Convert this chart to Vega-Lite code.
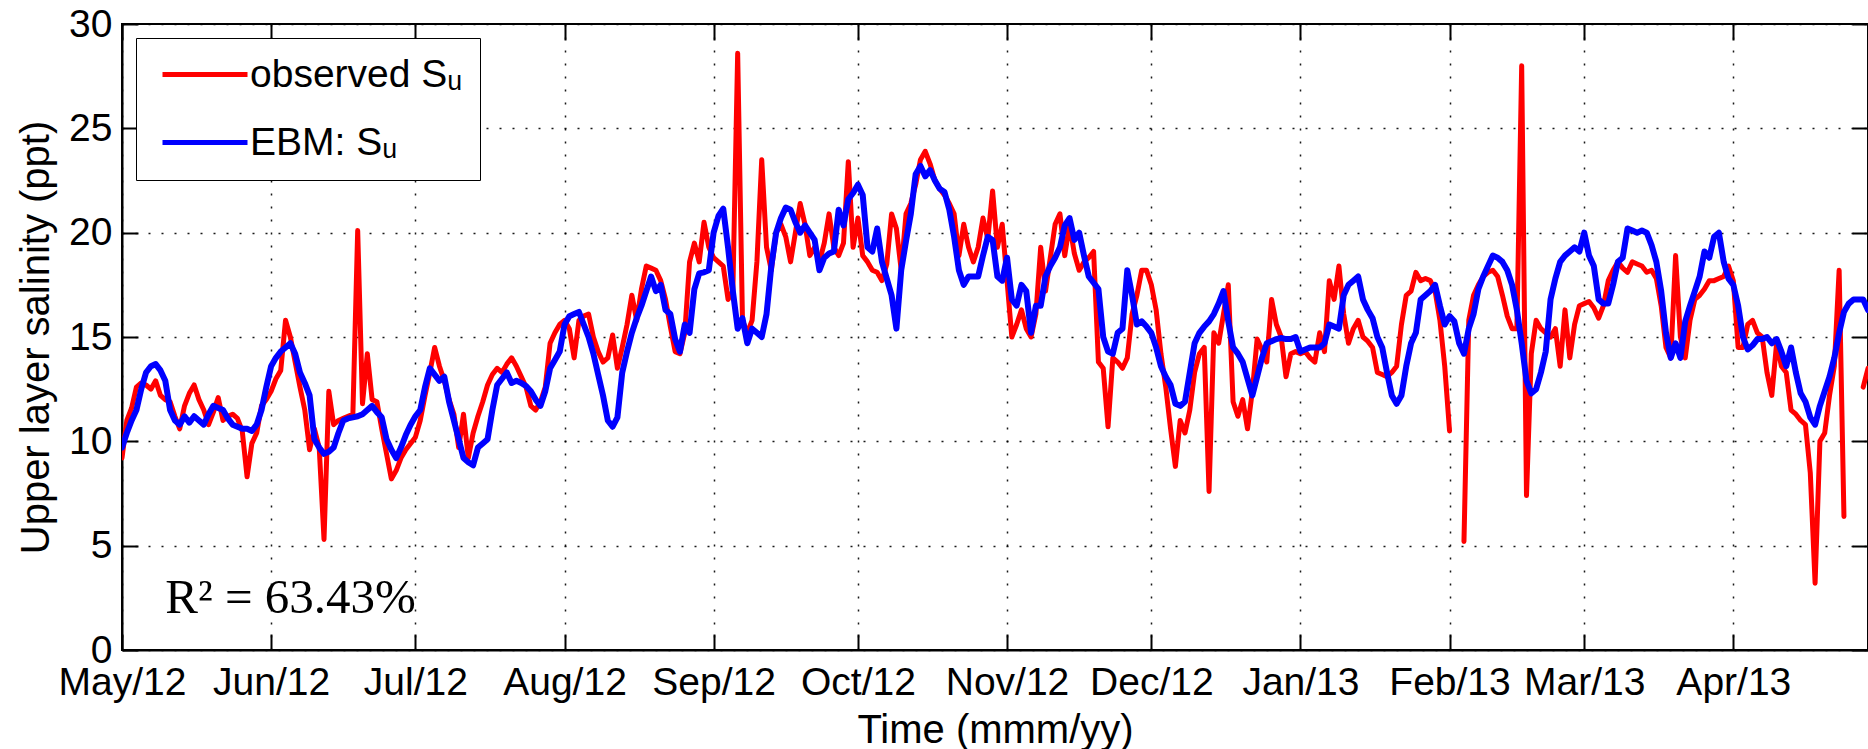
{
"$schema": "https://vega.github.io/schema/vega-lite/v6.json",
"width": 1746, "height": 626,
"autosize": {"type": "none"},
"padding": {"left": 122, "top": 24, "right": 0, "bottom": 99},
"background": "white",
"datasets": {
"obs": [
{"t":"2012-05-01","v":9.2},{"t":"2012-05-02","v":11.0},{"t":"2012-05-03","v":11.6},{"t":"2012-05-04","v":12.6},{"t":"2012-05-05","v":12.8},{"t":"2012-05-06","v":12.7},{"t":"2012-05-07","v":12.5},{"t":"2012-05-08","v":12.9},{"t":"2012-05-09","v":12.2},{"t":"2012-05-10","v":12.0},{"t":"2012-05-11","v":11.9},{"t":"2012-05-12","v":11.2},{"t":"2012-05-13","v":10.6},{"t":"2012-05-14","v":11.7},{"t":"2012-05-15","v":12.3},{"t":"2012-05-16","v":12.7},{"t":"2012-05-17","v":12.0},{"t":"2012-05-18","v":11.5},{"t":"2012-05-19","v":10.8},{"t":"2012-05-20","v":11.4},{"t":"2012-05-21","v":12.1},{"t":"2012-05-22","v":11.0},{"t":"2012-05-23","v":11.2},{"t":"2012-05-24","v":11.3},{"t":"2012-05-25","v":11.1},{"t":"2012-05-26","v":10.5},{"t":"2012-05-27","v":8.3},{"t":"2012-05-28","v":9.9},{"t":"2012-05-29","v":10.4},{"t":"2012-05-30","v":11.7},{"t":"2012-05-31","v":12.0},
{"t":"2012-06-01","v":12.4},{"t":"2012-06-02","v":13.0},{"t":"2012-06-03","v":13.4},{"t":"2012-06-04","v":15.8},{"t":"2012-06-05","v":15.0},{"t":"2012-06-06","v":13.8},{"t":"2012-06-07","v":12.6},{"t":"2012-06-08","v":11.5},{"t":"2012-06-09","v":9.6},{"t":"2012-06-10","v":10.6},{"t":"2012-06-11","v":9.7},{"t":"2012-06-12","v":5.3},{"t":"2012-06-13","v":12.4},{"t":"2012-06-14","v":10.8},{"t":"2012-06-15","v":11.0},{"t":"2012-06-16","v":11.1},{"t":"2012-06-17","v":11.2},{"t":"2012-06-18","v":11.3},{"t":"2012-06-19","v":20.1},{"t":"2012-06-20","v":11.8},{"t":"2012-06-21","v":14.2},{"t":"2012-06-22","v":12.0},{"t":"2012-06-23","v":11.9},{"t":"2012-06-24","v":10.6},{"t":"2012-06-25","v":9.4},{"t":"2012-06-26","v":8.2},{"t":"2012-06-27","v":8.6},{"t":"2012-06-28","v":9.2},{"t":"2012-06-29","v":9.6},{"t":"2012-06-30","v":9.9},
{"t":"2012-07-01","v":10.2},{"t":"2012-07-02","v":11.0},{"t":"2012-07-03","v":12.2},{"t":"2012-07-04","v":13.3},{"t":"2012-07-05","v":14.5},{"t":"2012-07-06","v":13.6},{"t":"2012-07-07","v":12.9},{"t":"2012-07-08","v":12.0},{"t":"2012-07-09","v":11.3},{"t":"2012-07-10","v":9.7},{"t":"2012-07-11","v":11.3},{"t":"2012-07-12","v":9.2},{"t":"2012-07-13","v":10.4},{"t":"2012-07-14","v":11.2},{"t":"2012-07-15","v":11.9},{"t":"2012-07-16","v":12.7},{"t":"2012-07-17","v":13.2},{"t":"2012-07-18","v":13.5},{"t":"2012-07-19","v":13.3},{"t":"2012-07-20","v":13.7},{"t":"2012-07-21","v":14.0},{"t":"2012-07-22","v":13.6},{"t":"2012-07-23","v":13.1},{"t":"2012-07-24","v":12.6},{"t":"2012-07-25","v":11.7},{"t":"2012-07-26","v":11.5},{"t":"2012-07-27","v":11.9},{"t":"2012-07-28","v":12.6},{"t":"2012-07-29","v":14.7},{"t":"2012-07-30","v":15.2},{"t":"2012-07-31","v":15.6},
{"t":"2012-08-01","v":15.8},{"t":"2012-08-02","v":15.4},{"t":"2012-08-03","v":14.0},{"t":"2012-08-04","v":15.8},{"t":"2012-08-05","v":16.0},{"t":"2012-08-06","v":16.1},{"t":"2012-08-07","v":15.0},{"t":"2012-08-08","v":14.3},{"t":"2012-08-09","v":13.8},{"t":"2012-08-10","v":14.0},{"t":"2012-08-11","v":15.1},{"t":"2012-08-12","v":13.5},{"t":"2012-08-13","v":14.5},{"t":"2012-08-14","v":15.6},{"t":"2012-08-15","v":17.0},{"t":"2012-08-16","v":15.8},{"t":"2012-08-17","v":17.3},{"t":"2012-08-18","v":18.4},{"t":"2012-08-19","v":18.3},{"t":"2012-08-20","v":18.2},{"t":"2012-08-21","v":17.7},{"t":"2012-08-22","v":16.8},{"t":"2012-08-23","v":15.5},{"t":"2012-08-24","v":14.3},{"t":"2012-08-25","v":14.2},{"t":"2012-08-26","v":15.2},{"t":"2012-08-27","v":18.6},{"t":"2012-08-28","v":19.5},{"t":"2012-08-29","v":18.6},{"t":"2012-08-30","v":20.5},{"t":"2012-08-31","v":19.3},
{"t":"2012-09-01","v":18.8},{"t":"2012-09-02","v":18.6},{"t":"2012-09-03","v":18.4},{"t":"2012-09-04","v":16.8},{"t":"2012-09-05","v":17.2},{"t":"2012-09-06","v":28.6},{"t":"2012-09-07","v":15.8},{"t":"2012-09-08","v":15.2},{"t":"2012-09-09","v":15.8},{"t":"2012-09-10","v":18.6},{"t":"2012-09-11","v":23.5},{"t":"2012-09-12","v":19.3},{"t":"2012-09-13","v":18.2},{"t":"2012-09-14","v":20.0},{"t":"2012-09-15","v":20.4},{"t":"2012-09-16","v":19.8},{"t":"2012-09-17","v":18.6},{"t":"2012-09-18","v":20.0},{"t":"2012-09-19","v":21.4},{"t":"2012-09-20","v":20.4},{"t":"2012-09-21","v":18.9},{"t":"2012-09-22","v":19.3},{"t":"2012-09-23","v":18.6},{"t":"2012-09-24","v":19.5},{"t":"2012-09-25","v":20.9},{"t":"2012-09-26","v":19.3},{"t":"2012-09-27","v":18.9},{"t":"2012-09-28","v":19.5},{"t":"2012-09-29","v":23.4},{"t":"2012-09-30","v":19.3},
{"t":"2012-10-01","v":20.7},{"t":"2012-10-02","v":18.9},{"t":"2012-10-03","v":18.6},{"t":"2012-10-04","v":18.2},{"t":"2012-10-05","v":18.1},{"t":"2012-10-06","v":17.7},{"t":"2012-10-07","v":18.5},{"t":"2012-10-08","v":20.9},{"t":"2012-10-09","v":20.2},{"t":"2012-10-10","v":18.2},{"t":"2012-10-11","v":20.9},{"t":"2012-10-12","v":21.4},{"t":"2012-10-13","v":22.3},{"t":"2012-10-14","v":23.5},{"t":"2012-10-15","v":23.9},{"t":"2012-10-16","v":23.3},{"t":"2012-10-17","v":22.5},{"t":"2012-10-18","v":22.1},{"t":"2012-10-19","v":21.8},{"t":"2012-10-20","v":21.4},{"t":"2012-10-21","v":20.9},{"t":"2012-10-22","v":18.9},{"t":"2012-10-23","v":20.4},{"t":"2012-10-24","v":19.3},{"t":"2012-10-25","v":18.6},{"t":"2012-10-26","v":19.3},{"t":"2012-10-27","v":20.7},{"t":"2012-10-28","v":19.7},{"t":"2012-10-29","v":22.0},{"t":"2012-10-30","v":19.3},{"t":"2012-10-31","v":20.4},
{"t":"2012-11-01","v":17.7},{"t":"2012-11-02","v":15.0},{"t":"2012-11-03","v":15.6},{"t":"2012-11-04","v":16.3},{"t":"2012-11-05","v":15.4},{"t":"2012-11-06","v":15.0},{"t":"2012-11-07","v":16.1},{"t":"2012-11-08","v":19.3},{"t":"2012-11-09","v":17.2},{"t":"2012-11-10","v":18.8},{"t":"2012-11-11","v":20.4},{"t":"2012-11-12","v":20.9},{"t":"2012-11-13","v":18.9},{"t":"2012-11-14","v":20.4},{"t":"2012-11-15","v":19.0},{"t":"2012-11-16","v":18.2},{"t":"2012-11-17","v":18.6},{"t":"2012-11-18","v":18.8},{"t":"2012-11-19","v":19.1},{"t":"2012-11-20","v":13.8},{"t":"2012-11-21","v":13.5},{"t":"2012-11-22","v":10.7},{"t":"2012-11-23","v":14.0},{"t":"2012-11-24","v":13.8},{"t":"2012-11-25","v":13.5},{"t":"2012-11-26","v":14.0},{"t":"2012-11-27","v":16.1},{"t":"2012-11-28","v":17.0},{"t":"2012-11-29","v":18.2},{"t":"2012-11-30","v":18.2},
{"t":"2012-12-01","v":17.5},{"t":"2012-12-02","v":16.3},{"t":"2012-12-03","v":14.2},{"t":"2012-12-04","v":12.6},{"t":"2012-12-05","v":10.6},{"t":"2012-12-06","v":8.8},{"t":"2012-12-07","v":11.0},{"t":"2012-12-08","v":10.4},{"t":"2012-12-09","v":11.5},{"t":"2012-12-10","v":13.3},{"t":"2012-12-11","v":14.2},{"t":"2012-12-12","v":14.5},{"t":"2012-12-13","v":7.6},{"t":"2012-12-14","v":15.2},{"t":"2012-12-15","v":14.7},{"t":"2012-12-16","v":16.1},{"t":"2012-12-17","v":17.5},{"t":"2012-12-18","v":11.9},{"t":"2012-12-19","v":11.2},{"t":"2012-12-20","v":12.0},{"t":"2012-12-21","v":10.6},{"t":"2012-12-22","v":12.4},{"t":"2012-12-23","v":14.9},{"t":"2012-12-24","v":14.4},{"t":"2012-12-25","v":13.8},{"t":"2012-12-26","v":16.8},{"t":"2012-12-27","v":15.6},{"t":"2012-12-28","v":15.0},{"t":"2012-12-29","v":13.1},{"t":"2012-12-30","v":14.2},{"t":"2012-12-31","v":14.3},
{"t":"2013-01-01","v":14.2},{"t":"2013-01-02","v":14.3},{"t":"2013-01-03","v":14.0},{"t":"2013-01-04","v":13.8},{"t":"2013-01-05","v":15.2},{"t":"2013-01-06","v":14.3},{"t":"2013-01-07","v":17.7},{"t":"2013-01-08","v":16.8},{"t":"2013-01-09","v":18.4},{"t":"2013-01-10","v":16.1},{"t":"2013-01-11","v":14.7},{"t":"2013-01-12","v":15.4},{"t":"2013-01-13","v":15.8},{"t":"2013-01-14","v":15.0},{"t":"2013-01-15","v":14.8},{"t":"2013-01-16","v":14.5},{"t":"2013-01-17","v":13.3},{"t":"2013-01-18","v":13.2},{"t":"2013-01-19","v":13.1},{"t":"2013-01-20","v":13.3},{"t":"2013-01-21","v":13.6},{"t":"2013-01-22","v":15.6},{"t":"2013-01-23","v":17.0},{"t":"2013-01-24","v":17.2},{"t":"2013-01-25","v":18.1},{"t":"2013-01-26","v":17.7},{"t":"2013-01-27","v":17.8},{"t":"2013-01-28","v":17.7},{"t":"2013-01-29","v":17.2},{"t":"2013-01-30","v":15.8},{"t":"2013-01-31","v":13.6},
{"t":"2013-02-01","v":10.5},{"t":"2013-02-02","v":null},{"t":"2013-02-04","v":5.2},{"t":"2013-02-05","v":15.8},{"t":"2013-02-06","v":17.0},{"t":"2013-02-07","v":17.5},{"t":"2013-02-08","v":17.9},{"t":"2013-02-09","v":18.1},{"t":"2013-02-10","v":18.2},{"t":"2013-02-11","v":17.9},{"t":"2013-02-12","v":17.0},{"t":"2013-02-13","v":16.0},{"t":"2013-02-14","v":15.4},{"t":"2013-02-15","v":15.4},{"t":"2013-02-16","v":28.0},{"t":"2013-02-17","v":7.4},{"t":"2013-02-18","v":14.2},{"t":"2013-02-19","v":15.8},{"t":"2013-02-20","v":15.4},{"t":"2013-02-21","v":15.2},{"t":"2013-02-22","v":15.0},{"t":"2013-02-23","v":15.4},{"t":"2013-02-24","v":13.6},{"t":"2013-02-25","v":16.3},{"t":"2013-02-26","v":14.0},{"t":"2013-02-27","v":15.6},{"t":"2013-02-28","v":16.5},
{"t":"2013-03-01","v":16.6},{"t":"2013-03-02","v":16.7},{"t":"2013-03-03","v":16.4},{"t":"2013-03-04","v":15.9},{"t":"2013-03-05","v":16.5},{"t":"2013-03-06","v":17.7},{"t":"2013-03-07","v":18.2},{"t":"2013-03-08","v":18.6},{"t":"2013-03-09","v":18.3},{"t":"2013-03-10","v":18.1},{"t":"2013-03-11","v":18.6},{"t":"2013-03-12","v":18.5},{"t":"2013-03-13","v":18.4},{"t":"2013-03-14","v":18.1},{"t":"2013-03-15","v":18.2},{"t":"2013-03-16","v":17.8},{"t":"2013-03-17","v":16.5},{"t":"2013-03-18","v":14.5},{"t":"2013-03-19","v":14.0},{"t":"2013-03-20","v":18.9},{"t":"2013-03-21","v":15.0},{"t":"2013-03-22","v":14.0},{"t":"2013-03-23","v":15.8},{"t":"2013-03-24","v":16.8},{"t":"2013-03-25","v":17.0},{"t":"2013-03-26","v":17.3},{"t":"2013-03-27","v":17.7},{"t":"2013-03-28","v":17.7},{"t":"2013-03-29","v":17.8},{"t":"2013-03-30","v":17.9},{"t":"2013-03-31","v":18.4},
{"t":"2013-04-01","v":17.7},{"t":"2013-04-02","v":14.5},{"t":"2013-04-03","v":14.5},{"t":"2013-04-04","v":15.6},{"t":"2013-04-05","v":15.8},{"t":"2013-04-06","v":15.2},{"t":"2013-04-07","v":15.0},{"t":"2013-04-08","v":13.3},{"t":"2013-04-09","v":12.2},{"t":"2013-04-10","v":14.7},{"t":"2013-04-11","v":13.6},{"t":"2013-04-12","v":13.3},{"t":"2013-04-13","v":11.5},{"t":"2013-04-14","v":11.3},{"t":"2013-04-15","v":11.0},{"t":"2013-04-16","v":10.8},{"t":"2013-04-17","v":8.5},{"t":"2013-04-18","v":3.2},{"t":"2013-04-19","v":10.0},{"t":"2013-04-20","v":10.4},{"t":"2013-04-21","v":12.2},{"t":"2013-04-22","v":13.6},{"t":"2013-04-23","v":18.2},{"t":"2013-04-24","v":6.4},{"t":"2013-04-25","v":null},{"t":"2013-04-28","v":12.6},{"t":"2013-04-29","v":13.5}
],
"ebm": [
{"t":"2012-05-01","v":9.7},{"t":"2012-05-02","v":10.4},{"t":"2012-05-03","v":11.0},{"t":"2012-05-04","v":11.5},{"t":"2012-05-05","v":12.5},{"t":"2012-05-06","v":13.3},{"t":"2012-05-07","v":13.6},{"t":"2012-05-08","v":13.7},{"t":"2012-05-09","v":13.4},{"t":"2012-05-10","v":12.9},{"t":"2012-05-11","v":11.5},{"t":"2012-05-12","v":11.0},{"t":"2012-05-13","v":10.8},{"t":"2012-05-14","v":11.2},{"t":"2012-05-15","v":10.9},{"t":"2012-05-16","v":11.2},{"t":"2012-05-17","v":11.0},{"t":"2012-05-18","v":10.8},{"t":"2012-05-19","v":11.3},{"t":"2012-05-20","v":11.7},{"t":"2012-05-21","v":11.6},{"t":"2012-05-22","v":11.5},{"t":"2012-05-23","v":11.1},{"t":"2012-05-24","v":10.8},{"t":"2012-05-25","v":10.7},{"t":"2012-05-26","v":10.6},{"t":"2012-05-27","v":10.6},{"t":"2012-05-28","v":10.5},{"t":"2012-05-29","v":10.8},{"t":"2012-05-30","v":11.5},{"t":"2012-05-31","v":12.6},
{"t":"2012-06-01","v":13.6},{"t":"2012-06-02","v":14.0},{"t":"2012-06-03","v":14.3},{"t":"2012-06-04","v":14.5},{"t":"2012-06-05","v":14.7},{"t":"2012-06-06","v":14.2},{"t":"2012-06-07","v":13.3},{"t":"2012-06-08","v":12.8},{"t":"2012-06-09","v":12.2},{"t":"2012-06-10","v":10.1},{"t":"2012-06-11","v":9.7},{"t":"2012-06-12","v":9.4},{"t":"2012-06-13","v":9.5},{"t":"2012-06-14","v":9.7},{"t":"2012-06-15","v":10.4},{"t":"2012-06-16","v":11.0},{"t":"2012-06-17","v":11.1},{"t":"2012-06-18","v":11.15},{"t":"2012-06-19","v":11.2},{"t":"2012-06-20","v":11.3},{"t":"2012-06-21","v":11.5},{"t":"2012-06-22","v":11.7},{"t":"2012-06-23","v":11.4},{"t":"2012-06-24","v":11.15},{"t":"2012-06-25","v":10.1},{"t":"2012-06-26","v":9.6},{"t":"2012-06-27","v":9.2},{"t":"2012-06-28","v":9.7},{"t":"2012-06-29","v":10.3},{"t":"2012-06-30","v":10.8},
{"t":"2012-07-01","v":11.2},{"t":"2012-07-02","v":11.5},{"t":"2012-07-03","v":12.6},{"t":"2012-07-04","v":13.5},{"t":"2012-07-05","v":13.2},{"t":"2012-07-06","v":12.9},{"t":"2012-07-07","v":13.1},{"t":"2012-07-08","v":11.9},{"t":"2012-07-09","v":11.0},{"t":"2012-07-10","v":10.1},{"t":"2012-07-11","v":9.2},{"t":"2012-07-12","v":9.0},{"t":"2012-07-13","v":8.85},{"t":"2012-07-14","v":9.7},{"t":"2012-07-15","v":9.9},{"t":"2012-07-16","v":10.1},{"t":"2012-07-17","v":11.5},{"t":"2012-07-18","v":12.7},{"t":"2012-07-19","v":13.0},{"t":"2012-07-20","v":13.3},{"t":"2012-07-21","v":12.8},{"t":"2012-07-22","v":12.9},{"t":"2012-07-23","v":12.8},{"t":"2012-07-24","v":12.65},{"t":"2012-07-25","v":12.4},{"t":"2012-07-26","v":12.0},{"t":"2012-07-27","v":11.7},{"t":"2012-07-28","v":12.4},{"t":"2012-07-29","v":13.5},{"t":"2012-07-30","v":13.9},{"t":"2012-07-31","v":14.3},
{"t":"2012-08-01","v":15.6},{"t":"2012-08-02","v":16.0},{"t":"2012-08-03","v":16.1},{"t":"2012-08-04","v":16.2},{"t":"2012-08-05","v":15.6},{"t":"2012-08-06","v":15.0},{"t":"2012-08-07","v":14.2},{"t":"2012-08-08","v":13.2},{"t":"2012-08-09","v":12.2},{"t":"2012-08-10","v":11.0},{"t":"2012-08-11","v":10.7},{"t":"2012-08-12","v":11.15},{"t":"2012-08-13","v":13.3},{"t":"2012-08-14","v":14.3},{"t":"2012-08-15","v":15.2},{"t":"2012-08-16","v":15.9},{"t":"2012-08-17","v":16.5},{"t":"2012-08-18","v":17.2},{"t":"2012-08-19","v":17.9},{"t":"2012-08-20","v":17.2},{"t":"2012-08-21","v":17.5},{"t":"2012-08-22","v":16.3},{"t":"2012-08-23","v":16.1},{"t":"2012-08-24","v":14.9},{"t":"2012-08-25","v":14.3},{"t":"2012-08-26","v":15.6},{"t":"2012-08-27","v":15.2},{"t":"2012-08-28","v":17.3},{"t":"2012-08-29","v":18.05},{"t":"2012-08-30","v":18.1},{"t":"2012-08-31","v":18.2},
{"t":"2012-09-01","v":20.0},{"t":"2012-09-02","v":20.8},{"t":"2012-09-03","v":21.15},{"t":"2012-09-04","v":19.3},{"t":"2012-09-05","v":17.2},{"t":"2012-09-06","v":15.4},{"t":"2012-09-07","v":15.9},{"t":"2012-09-08","v":14.7},{"t":"2012-09-09","v":15.4},{"t":"2012-09-10","v":15.2},{"t":"2012-09-11","v":15.0},{"t":"2012-09-12","v":16.1},{"t":"2012-09-13","v":18.4},{"t":"2012-09-14","v":20.0},{"t":"2012-09-15","v":20.7},{"t":"2012-09-16","v":21.2},{"t":"2012-09-17","v":21.1},{"t":"2012-09-18","v":20.5},{"t":"2012-09-19","v":20.0},{"t":"2012-09-20","v":20.35},{"t":"2012-09-21","v":20.0},{"t":"2012-09-22","v":19.65},{"t":"2012-09-23","v":18.2},{"t":"2012-09-24","v":18.8},{"t":"2012-09-25","v":19.0},{"t":"2012-09-26","v":19.1},{"t":"2012-09-27","v":21.1},{"t":"2012-09-28","v":20.35},{"t":"2012-09-29","v":21.6},{"t":"2012-09-30","v":21.9},
{"t":"2012-10-01","v":22.3},{"t":"2012-10-02","v":21.8},{"t":"2012-10-03","v":19.3},{"t":"2012-10-04","v":19.1},{"t":"2012-10-05","v":20.2},{"t":"2012-10-06","v":18.6},{"t":"2012-10-07","v":17.8},{"t":"2012-10-08","v":17.0},{"t":"2012-10-09","v":15.4},{"t":"2012-10-10","v":18.2},{"t":"2012-10-11","v":19.6},{"t":"2012-10-12","v":20.9},{"t":"2012-10-13","v":22.8},{"t":"2012-10-14","v":23.2},{"t":"2012-10-15","v":22.7},{"t":"2012-10-16","v":23.0},{"t":"2012-10-17","v":22.5},{"t":"2012-10-18","v":22.1},{"t":"2012-10-19","v":21.95},{"t":"2012-10-20","v":21.1},{"t":"2012-10-21","v":19.8},{"t":"2012-10-22","v":18.2},{"t":"2012-10-23","v":17.5},{"t":"2012-10-24","v":17.9},{"t":"2012-10-25","v":17.9},{"t":"2012-10-26","v":17.9},{"t":"2012-10-27","v":18.9},{"t":"2012-10-28","v":19.8},{"t":"2012-10-29","v":19.65},{"t":"2012-10-30","v":17.9},{"t":"2012-10-31","v":17.7},
{"t":"2012-11-01","v":18.8},{"t":"2012-11-02","v":16.8},{"t":"2012-11-03","v":16.5},{"t":"2012-11-04","v":17.5},{"t":"2012-11-05","v":17.2},{"t":"2012-11-06","v":15.2},{"t":"2012-11-07","v":16.5},{"t":"2012-11-08","v":16.5},{"t":"2012-11-09","v":17.9},{"t":"2012-11-10","v":18.4},{"t":"2012-11-11","v":18.8},{"t":"2012-11-12","v":19.3},{"t":"2012-11-13","v":20.35},{"t":"2012-11-14","v":20.7},{"t":"2012-11-15","v":19.65},{"t":"2012-11-16","v":20.0},{"t":"2012-11-17","v":18.9},{"t":"2012-11-18","v":17.9},{"t":"2012-11-19","v":17.6},{"t":"2012-11-20","v":17.3},{"t":"2012-11-21","v":15.0},{"t":"2012-11-22","v":14.3},{"t":"2012-11-23","v":14.2},{"t":"2012-11-24","v":15.2},{"t":"2012-11-25","v":15.4},{"t":"2012-11-26","v":18.2},{"t":"2012-11-27","v":17.0},{"t":"2012-11-28","v":15.6},{"t":"2012-11-29","v":15.75},{"t":"2012-11-30","v":15.5},
{"t":"2012-12-01","v":15.2},{"t":"2012-12-02","v":14.5},{"t":"2012-12-03","v":13.6},{"t":"2012-12-04","v":13.1},{"t":"2012-12-05","v":12.7},{"t":"2012-12-06","v":11.8},{"t":"2012-12-07","v":11.7},{"t":"2012-12-08","v":11.9},{"t":"2012-12-09","v":13.3},{"t":"2012-12-10","v":14.7},{"t":"2012-12-11","v":15.2},{"t":"2012-12-12","v":15.5},{"t":"2012-12-13","v":15.75},{"t":"2012-12-14","v":16.1},{"t":"2012-12-15","v":16.6},{"t":"2012-12-16","v":17.2},{"t":"2012-12-17","v":15.75},{"t":"2012-12-18","v":14.5},{"t":"2012-12-19","v":14.2},{"t":"2012-12-20","v":13.8},{"t":"2012-12-21","v":13.0},{"t":"2012-12-22","v":12.2},{"t":"2012-12-23","v":13.1},{"t":"2012-12-24","v":14.0},{"t":"2012-12-25","v":14.7},{"t":"2012-12-26","v":14.8},{"t":"2012-12-27","v":14.9},{"t":"2012-12-28","v":14.95},{"t":"2012-12-29","v":14.9},{"t":"2012-12-30","v":14.9},{"t":"2012-12-31","v":15.0},
{"t":"2013-01-01","v":14.3},{"t":"2013-01-02","v":14.4},{"t":"2013-01-03","v":14.5},{"t":"2013-01-04","v":14.5},{"t":"2013-01-05","v":14.5},{"t":"2013-01-06","v":14.7},{"t":"2013-01-07","v":15.6},{"t":"2013-01-08","v":15.5},{"t":"2013-01-09","v":15.4},{"t":"2013-01-10","v":17.0},{"t":"2013-01-11","v":17.5},{"t":"2013-01-12","v":17.7},{"t":"2013-01-13","v":17.9},{"t":"2013-01-14","v":16.8},{"t":"2013-01-15","v":16.3},{"t":"2013-01-16","v":15.9},{"t":"2013-01-17","v":15.0},{"t":"2013-01-18","v":14.5},{"t":"2013-01-19","v":13.3},{"t":"2013-01-20","v":12.2},{"t":"2013-01-21","v":11.8},{"t":"2013-01-22","v":12.2},{"t":"2013-01-23","v":13.6},{"t":"2013-01-24","v":14.7},{"t":"2013-01-25","v":15.2},{"t":"2013-01-26","v":16.8},{"t":"2013-01-27","v":17.0},{"t":"2013-01-28","v":17.2},{"t":"2013-01-29","v":17.5},{"t":"2013-01-30","v":16.5},{"t":"2013-01-31","v":15.6},
{"t":"2013-02-01","v":16.0},{"t":"2013-02-02","v":15.75},{"t":"2013-02-03","v":14.7},{"t":"2013-02-04","v":14.2},{"t":"2013-02-05","v":15.4},{"t":"2013-02-06","v":16.1},{"t":"2013-02-07","v":17.3},{"t":"2013-02-08","v":17.9},{"t":"2013-02-09","v":18.4},{"t":"2013-02-10","v":18.9},{"t":"2013-02-11","v":18.8},{"t":"2013-02-12","v":18.6},{"t":"2013-02-13","v":18.2},{"t":"2013-02-14","v":17.5},{"t":"2013-02-15","v":16.3},{"t":"2013-02-16","v":14.7},{"t":"2013-02-17","v":12.9},{"t":"2013-02-18","v":12.3},{"t":"2013-02-19","v":12.5},{"t":"2013-02-20","v":13.3},{"t":"2013-02-21","v":14.3},{"t":"2013-02-22","v":16.8},{"t":"2013-02-23","v":17.8},{"t":"2013-02-24","v":18.6},{"t":"2013-02-25","v":18.9},{"t":"2013-02-26","v":19.1},{"t":"2013-02-27","v":19.3},{"t":"2013-02-28","v":19.1},
{"t":"2013-03-01","v":20.0},{"t":"2013-03-02","v":18.9},{"t":"2013-03-03","v":18.4},{"t":"2013-03-04","v":16.8},{"t":"2013-03-05","v":16.6},{"t":"2013-03-06","v":16.6},{"t":"2013-03-07","v":17.5},{"t":"2013-03-08","v":18.6},{"t":"2013-03-09","v":18.8},{"t":"2013-03-10","v":20.2},{"t":"2013-03-11","v":20.1},{"t":"2013-03-12","v":20.0},{"t":"2013-03-13","v":20.1},{"t":"2013-03-14","v":20.0},{"t":"2013-03-15","v":19.4},{"t":"2013-03-16","v":18.6},{"t":"2013-03-17","v":17.2},{"t":"2013-03-18","v":15.2},{"t":"2013-03-19","v":14.0},{"t":"2013-03-20","v":14.7},{"t":"2013-03-21","v":14.0},{"t":"2013-03-22","v":15.75},{"t":"2013-03-23","v":16.5},{"t":"2013-03-24","v":17.2},{"t":"2013-03-25","v":17.9},{"t":"2013-03-26","v":19.1},{"t":"2013-03-27","v":18.8},{"t":"2013-03-28","v":19.8},{"t":"2013-03-29","v":20.0},{"t":"2013-03-30","v":18.6},{"t":"2013-03-31","v":17.8},
{"t":"2013-04-01","v":17.5},{"t":"2013-04-02","v":16.5},{"t":"2013-04-03","v":15.0},{"t":"2013-04-04","v":14.4},{"t":"2013-04-05","v":14.6},{"t":"2013-04-06","v":14.9},{"t":"2013-04-07","v":14.9},{"t":"2013-04-08","v":15.0},{"t":"2013-04-09","v":14.7},{"t":"2013-04-10","v":14.9},{"t":"2013-04-11","v":14.3},{"t":"2013-04-12","v":13.6},{"t":"2013-04-13","v":14.5},{"t":"2013-04-14","v":13.3},{"t":"2013-04-15","v":12.3},{"t":"2013-04-16","v":11.9},{"t":"2013-04-17","v":11.15},{"t":"2013-04-18","v":10.8},{"t":"2013-04-19","v":11.7},{"t":"2013-04-20","v":12.4},{"t":"2013-04-21","v":13.1},{"t":"2013-04-22","v":14.0},{"t":"2013-04-23","v":15.2},{"t":"2013-04-24","v":16.2},{"t":"2013-04-25","v":16.6},{"t":"2013-04-26","v":16.8},{"t":"2013-04-27","v":16.8},{"t":"2013-04-28","v":16.8},{"t":"2013-04-29","v":16.3}
],
"note": [{"t":"2012-05-10","v":1.75,"label":"R² = 63.43%"}]
},
"config": {
"font": "Liberation Sans",
"view": {"stroke": "black", "strokeWidth": 2},
"axis": {
"labelFont": "Liberation Sans", "titleFont": "Liberation Sans",
"labelFontSize": 39, "titleFontSize": 40, "titleFontWeight": "normal",
"labelColor": "black", "titleColor": "black",
"domainColor": "black", "domainWidth": 2,
"tickColor": "black", "tickWidth": 2, "tickSize": -16,
"gridColor": "black", "gridDash": [2, 11], "gridWidth": 1.5, "gridOpacity": 0.9,
"labelFlush": false, "labelOverlap": false
}
},
"layer": [
{
"data": {"name": "obs"},
"mark": {"type": "line", "strokeWidth": 5, "strokeJoin": "round", "strokeCap": "round", "clip": true, "invalid": "break-paths-filter-domains"},
"encoding": {
"x": {"field": "t", "type": "temporal",
"scale": {"type": "utc", "domain": [{"year": 2012, "month": 5, "date": 1, "utc": true}, {"year": 2013, "month": 4, "date": 29, "utc": true}]},
"axis": {"orient": "bottom", "format": "%b/%y", "tickCount": {"interval": "month", "step": 1}, "title": "Time (mmm/yy)", "grid": true, "labelPadding": 29, "titlePadding": 8}},
"y": {"field": "v", "type": "quantitative", "scale": {"domain": [0, 30]},
"axis": {"orient": "left", "values": [0, 5, 10, 15, 20, 25, 30], "title": "Upper layer salinity (ppt)", "grid": true, "labelPadding": 26, "titlePadding": 12}},
"color": {"datum": "observed Sᵤ", "type": "nominal",
"scale": {"domain": ["observed Sᵤ", "EBM: Sᵤ"], "range": ["#ff0000", "#0000ff"]},
"legend": {"title": null, "orient": "top-left", "offset": 14, "strokeColor": "black", "fillColor": "white", "padding": 17, "rowPadding": 28, "symbolType": "M-1,0H7.5", "symbolSize": 400, "symbolStrokeWidth": 5, "symbolFillColor": "transparent", "labelFontSize": 39, "labelFont": "Liberation Sans", "labelLimit": 0, "labelOffset": 58, "labelColor": "black", "cornerRadius": 0}}
}
},
{
"data": {"name": "ebm"},
"mark": {"type": "line", "strokeWidth": 6, "strokeJoin": "round", "strokeCap": "round", "clip": true},
"encoding": {
"x": {"field": "t", "type": "temporal",
"scale": {"type": "utc", "domain": [{"year": 2012, "month": 5, "date": 1, "utc": true}, {"year": 2013, "month": 4, "date": 29, "utc": true}]},
"axis": {"orient": "top", "labels": false, "title": null, "grid": false, "domain": false, "tickCount": {"interval": "month", "step": 1}}},
"y": {"field": "v", "type": "quantitative", "scale": {"domain": [0, 30]},
"axis": {"orient": "right", "labels": false, "title": null, "grid": false, "domain": false, "values": [0, 5, 10, 15, 20, 25, 30]}},
"color": {"datum": "EBM: Sᵤ", "type": "nominal"}
}
},
{
"data": {"name": "note"},
"mark": {"type": "text", "font": "Liberation Serif", "fontSize": 49, "align": "left", "baseline": "alphabetic", "color": "black"},
"encoding": {
"x": {"field": "t", "type": "temporal", "scale": {"type": "utc", "domain": [{"year": 2012, "month": 5, "date": 1, "utc": true}, {"year": 2013, "month": 4, "date": 29, "utc": true}]}, "axis": null},
"y": {"field": "v", "type": "quantitative", "scale": {"domain": [0, 30]}, "axis": null},
"text": {"field": "label"}
}
}
],
"resolve": {"scale": {"x": "independent", "y": "independent"}}
}
